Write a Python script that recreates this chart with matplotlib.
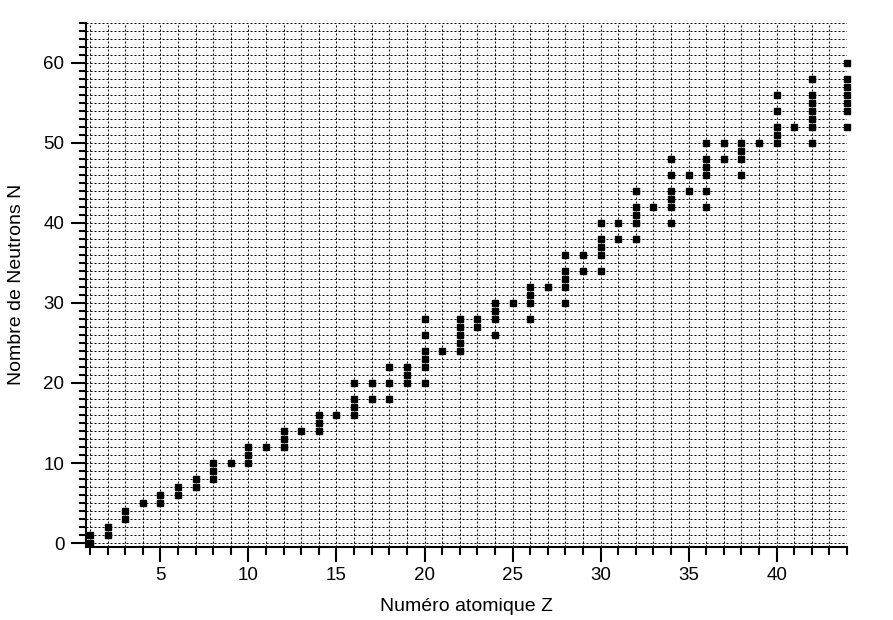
import numpy as np
import matplotlib
matplotlib.use('Agg')
import matplotlib.pyplot as plt
from matplotlib.ticker import MultipleLocator

# Isotopes stables : numero atomique Z et nombres de neutrons N observes
numero_z = list(range(1, 45))
neutrons = [
    [0, 1], [1, 2], [3, 4], [5], [5, 6], [6, 7], [7, 8], [8, 9, 10], [10],
    [10, 11, 12], [12], [12, 13, 14], [14], [14, 15, 16], [16],
    [16, 17, 18, 20], [18, 20], [18, 20, 22], [20, 21, 22],
    [20, 22, 23, 24, 26, 28], [24], [24, 25, 26, 27, 28], [27, 28],
    [26, 28, 29, 30], [30], [28, 30, 31, 32], [32], [30, 32, 33, 34, 36],
    [34, 36], [34, 36, 37, 38, 40], [38, 40], [38, 40, 41, 42, 44], [42],
    [40, 42, 43, 44, 46, 48], [44, 46], [42, 44, 46, 47, 48, 50], [48, 50],
    [46, 48, 49, 50], [50], [50, 51, 52, 54, 56], [52],
    [50, 52, 53, 54, 55, 56, 58], [], [52, 54, 55, 56, 57, 58, 60],
]

z_pts = []
n_pts = []
for z, ns in zip(numero_z, neutrons):
    for n in ns:
        z_pts.append(z)
        n_pts.append(n)

plt.rcParams['font.family'] = ['Liberation Sans', 'DejaVu Sans']

fig = plt.figure(figsize=(8.93, 6.2), dpi=100)
ax = fig.add_axes([86/893, 1 - 546.7/620, (847 - 86)/893, (546.7 - 22.7)/620])

ax.plot(z_pts, n_pts, linestyle='none', marker='s', markersize=4,
        color='black', clip_on=False, zorder=3)

ax.set_xlim(0.77, 44)
ax.set_ylim(-0.45, 65)

ax.xaxis.set_major_locator(MultipleLocator(5))
ax.xaxis.set_minor_locator(MultipleLocator(1))
ax.yaxis.set_major_locator(MultipleLocator(10))
ax.yaxis.set_minor_locator(MultipleLocator(1))

ax.grid(which='both', color='black', linewidth=0.72, linestyle=(0, (2, 2)))

for side in ['top', 'right']:
    ax.spines[side].set_visible(False)
for side in ['left', 'bottom']:
    ax.spines[side].set_linewidth(1.5)

ax.tick_params(which='major', length=10.5, width=1.5, labelsize=13.5, pad=4)
ax.tick_params(which='minor', length=5.4, width=1.5)
ax.tick_params(axis='y', which='major', pad=5)

ax.set_xlabel('Numéro atomique Z', fontsize=14, labelpad=10)
ax.set_ylabel('Nombre de Neutrons N', fontsize=14, labelpad=13)

fig.savefig('out.png', dpi=100)
